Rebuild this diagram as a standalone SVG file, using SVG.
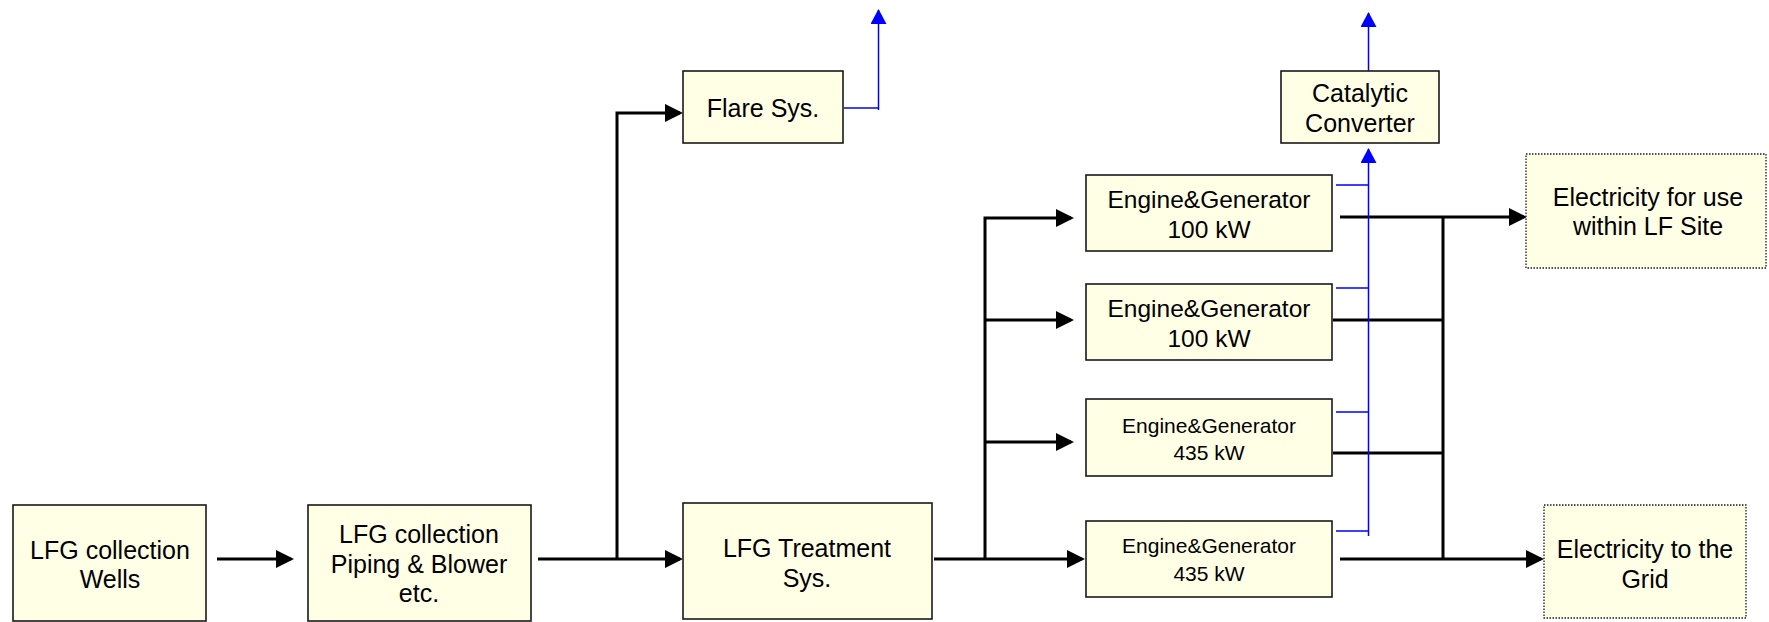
<svg xmlns="http://www.w3.org/2000/svg" width="1769" height="622" viewBox="0 0 1769 622">
<style>
.box{fill:#FFFFE6;stroke:#1a1a1a;stroke-width:1.6}
.dot{fill:#FFFFE6;stroke:#1a1a1a;stroke-width:1.3;stroke-dasharray:1.5 1.5}
text{font-family:"Liberation Sans",Arial,sans-serif;font-size:25px;fill:#000;text-anchor:middle}
.e1{font-size:24.5px}
.e4{font-size:21px}
.k{fill:none;stroke:#000;stroke-width:3}
.b{fill:none;stroke:#0000FF;stroke-width:1.5}
</style>
<defs>
<marker id="ak" markerUnits="userSpaceOnUse" markerWidth="20" markerHeight="20" refX="15" refY="9" orient="auto"><path d="M0,0 L18,9 L0,18 z" fill="#000"/></marker>
<marker id="ab" markerUnits="userSpaceOnUse" markerWidth="18" markerHeight="18" refX="14" refY="8" orient="auto"><path d="M0,0 L15,8 L0,16 z" fill="#0000FF"/></marker>
</defs>
<rect width="1769" height="622" fill="#fff"/>
<g id="connectors">
<path class="k" d="M217,559 H291" marker-end="url(#ak)"/>
<path class="k" d="M538,559 H680" marker-end="url(#ak)"/>
<path class="k" d="M617,559 V113 H680" marker-end="url(#ak)"/>
<path class="k" d="M934,559 H1082" marker-end="url(#ak)"/>
<path class="k" d="M985,559 V218 H1071" marker-end="url(#ak)"/>
<path class="k" d="M985,320 H1071" marker-end="url(#ak)"/>
<path class="k" d="M985,442 H1071" marker-end="url(#ak)"/>
<path class="k" d="M1340,217 H1524" marker-end="url(#ak)"/>
<path class="k" d="M1340,559 H1541" marker-end="url(#ak)"/>
<path class="k" d="M1333,320 H1443"/>
<path class="k" d="M1333,453 H1443"/>
<path class="k" d="M1443,217 V559"/>
<path class="b" d="M844,108 H878.5"/>
<path class="b" d="M878.5,110 V10" marker-end="url(#ab)"/>
<path class="b" d="M1368.5,71 V13" marker-end="url(#ab)"/>
<path class="b" d="M1368.5,536 V149" marker-end="url(#ab)"/>
<path class="b" d="M1336,185 H1368.5 M1336,288 H1368.5 M1336,412 H1368.5 M1336,531 H1368.5"/>
</g>
<g id="wells"><rect class="box" x="13" y="505" width="193" height="116"/><text x="110" y="559">LFG collection</text><text x="110" y="588">Wells</text></g>
<g id="piping"><rect class="box" x="308" y="505" width="223" height="116"/><text x="419" y="543">LFG collection</text><text x="419" y="573">Piping &amp; Blower</text><text x="419" y="602">etc.</text></g>
<g id="treatment"><rect class="box" x="683" y="503" width="249" height="116"/><text x="807" y="557">LFG Treatment</text><text x="807" y="587">Sys.</text></g>
<g id="flare"><rect class="box" x="683" y="71" width="160" height="72"/><text x="763" y="117">Flare Sys.</text></g>
<g id="catalytic"><rect class="box" x="1281" y="71" width="158" height="72"/><text x="1360" y="102">Catalytic</text><text x="1360" y="132">Converter</text></g>
<g id="engine1"><rect class="box" x="1086" y="175" width="246" height="76"/><text class="e1" x="1209" y="208">Engine&amp;Generator</text><text class="e1" x="1209" y="238">100 kW</text></g>
<g id="engine2"><rect class="box" x="1086" y="284" width="246" height="76"/><text class="e1" x="1209" y="317">Engine&amp;Generator</text><text class="e1" x="1209" y="347">100 kW</text></g>
<g id="engine3"><rect class="box" x="1086" y="399" width="246" height="77"/><text class="e4" x="1209" y="433">Engine&amp;Generator</text><text class="e4" x="1209" y="460">435 kW</text></g>
<g id="engine4"><rect class="box" x="1086" y="521" width="246" height="76"/><text class="e4" x="1209" y="553">Engine&amp;Generator</text><text class="e4" x="1209" y="581">435 kW</text></g>
<g id="elec-site"><rect class="dot" x="1526" y="154" width="240" height="114"/><text x="1648" y="206">Electricity for use</text><text x="1648" y="235">within LF Site</text></g>
<g id="elec-grid"><rect class="dot" x="1544" y="505" width="202" height="113"/><text x="1645" y="558">Electricity to the</text><text x="1645" y="588">Grid</text></g>
</svg>
